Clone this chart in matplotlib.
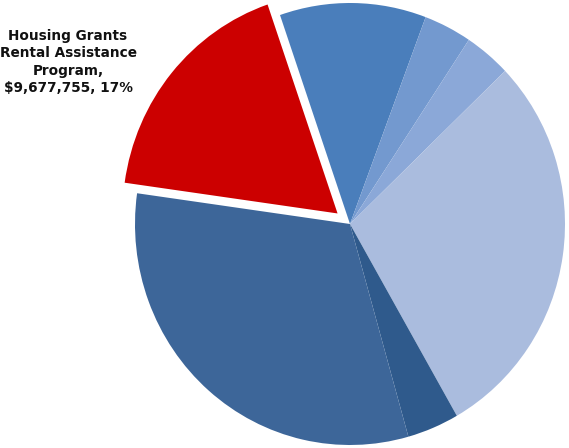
import matplotlib
matplotlib.use("Agg")
import matplotlib.pyplot as plt

# Slice shares (percent), clockwise from the top
categories = ["Program A", "Program B", "Program C", "Program D",
              "Program E", "Program F", "Housing Grants Rental Assistance Program"]
shares = [11.0, 3.6, 3.5, 28.9, 3.9, 31.6, 17.5]
colors = ["#4a7ebb", "#7399cf", "#8ba8d8", "#aabcde", "#2f5a8c", "#3d6699", "#cc0000"]
explode = [0, 0, 0, 0, 0, 0, 0.075]
label_text = "Housing Grants\nRental Assistance\nProgram,\n$9,677,755, 17%"

W, H = 569, 448
fig = plt.figure(figsize=(W / 100, H / 100), dpi=100)
ax = fig.add_axes([0, 0, 1, 1])

cx, cy, rx, ry = 350, 224, 215, 221
ax.pie(shares, colors=colors, explode=explode, startangle=109,
       counterclock=False, radius=1.0,
       wedgeprops=dict(linewidth=0))
ax.set_aspect("auto")
ax.set_xlim(-cx / rx, (W - cx) / rx)
ax.set_ylim(-(H - cy) / ry, cy / ry)
ax.axis("off")

fig.text(68 / W, 1 - 62 / H, label_text, ha="center", va="center",
         fontsize=9.8, fontweight="bold", color="#111111",
         family="DejaVu Sans", linespacing=1.3)

fig.savefig("out.png", dpi=100, facecolor="white")
